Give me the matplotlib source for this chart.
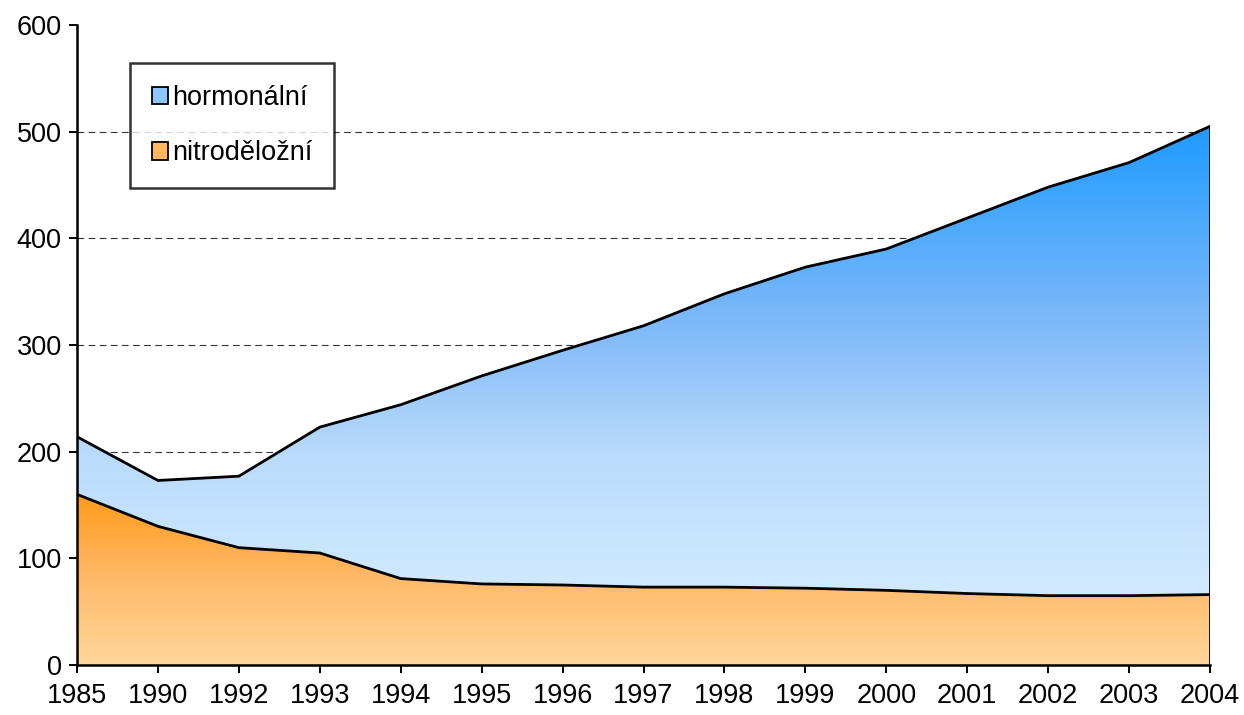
import numpy as np
import matplotlib
matplotlib.use("Agg")
import matplotlib.pyplot as plt
from matplotlib.colors import LinearSegmentedColormap
from matplotlib.patches import Polygon, Patch

years = ["1985", "1990", "1992", "1993", "1994", "1995", "1996", "1997",
         "1998", "1999", "2000", "2001", "2002", "2003", "2004"]
nitrodelozni = [160, 130, 110, 105, 81, 76, 75, 73, 73, 72, 70, 67, 65, 65, 66]
total = [214, 173, 177, 223, 244, 271, 295, 318, 348, 373, 390, 419, 448, 471, 505]
hormonalni = [t - n for t, n in zip(total, nitrodelozni)]

plt.rcParams['font.family'] = ['Liberation Sans', 'DejaVu Sans']

fig = plt.figure(figsize=(12.44, 7.15), dpi=100)
ax = fig.add_axes([77/1244, 50/715, (1210-77)/1244, (665-25)/715])

x = np.arange(len(years))
lower = np.array(nitrodelozni, dtype=float)
upper = lower + np.array(hormonalni, dtype=float)

def grad_fill(ax, xs, ylo, yhi, stops, y0, y1):
    verts = list(zip(xs, yhi)) + list(zip(xs[::-1], ylo[::-1]))
    poly = Polygon(verts, closed=True, facecolor='none', edgecolor='none')
    ax.add_patch(poly)
    cmap = LinearSegmentedColormap.from_list('g', stops)
    grad = np.linspace(0, 1, 256).reshape(-1, 1)
    im = ax.imshow(grad, cmap=cmap, aspect='auto', origin='lower',
                   extent=[xs[0], xs[-1], y0, y1], zorder=1,
                   interpolation='bilinear')
    im.set_clip_path(poly)

ax.set_xlim(0, len(years) - 1)
ax.set_ylim(0, 600)

for g in [100, 200, 300, 400, 500]:
    ax.axhline(g, color='#333333', linestyle=(0, (6, 4)), linewidth=0.8, zorder=0)

blue_stops = [(0.0, '#D2EAFF'), (0.3, '#BADBFC'), (0.57, '#80BAF9'), (1.0, '#1E9BFF')]
orange_stops = [(0.0, '#FFD699'), (0.5, '#FFBA6A'), (1.0, '#FF9A1A')]
grad_fill(ax, x, lower, upper, blue_stops, lower.min(), upper.max())
grad_fill(ax, x, np.zeros_like(lower), lower, orange_stops, 0, lower.max())

lw = 2.0
ax.plot(x, upper, color='black', linewidth=lw, zorder=3)
ax.plot(x, lower, color='black', linewidth=lw, zorder=3)
ax.plot([x[-1], x[-1]], [0, upper[-1]], color='black', linewidth=lw, zorder=3)

ax.set_xticks(x)
ax.set_xticklabels(years)
ax.set_yticks(np.arange(0, 601, 100))
ax.tick_params(axis='both', labelsize=19.5, direction='out', length=6, width=1.4, color='black')
ax.tick_params(axis='x', pad=7)
ax.tick_params(axis='y', pad=5)
ax.spines['top'].set_visible(False)
ax.spines['right'].set_visible(False)
for s in ['left', 'bottom']:
    ax.spines[s].set_linewidth(1.8)
    ax.spines[s].set_zorder(4)

handles = [Patch(facecolor='#8CC6FF', edgecolor='black', linewidth=1.3, label='hormonální'),
           Patch(facecolor='#FFB760', edgecolor='black', linewidth=1.3, label='nitroděložní')]
leg = ax.legend(handles=handles, loc='upper left', bbox_to_anchor=(53/1133, 1 - 38/640),
                fontsize=19.5, frameon=True, fancybox=False, edgecolor='black',
                handlelength=0.6, handleheight=0.6, handletextpad=0.15,
                labelspacing=1.1, borderpad=0.8, borderaxespad=0)
leg.get_frame().set_linewidth(1.8)

fig.savefig('out.png', dpi=100)
